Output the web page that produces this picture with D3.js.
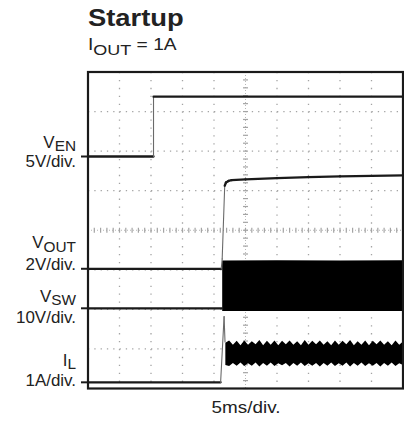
<!DOCTYPE html>
<html>
<head>
<meta charset="utf-8">
<script src="https://cdn.jsdelivr.net/npm/d3@7"></script>
<style>
  body { margin: 0; background: #fff; }
  svg { display: block; font-family: "Liberation Sans", Arial, sans-serif; }
</style>
</head>
<body>
<script>
// scope settings
const timeDomain = [0, 50];          // ms, 10 div x 5ms/div
const divDomain = [-4, 4];           // 8 vertical divisions
const timeLabel = "5ms/div.";
const title = "Startup";
const subtitle = { main: "I", sub: "OUT", rest: " = 1A" };

// channels: label, scale text, units per division, zero reference (div from centre)
const channels = [
    { id: "en",  main: "V", sub: "EN",  scale: "5V/div.",  perDiv: 5,  zero: 1.864 },
    { id: "out", main: "V", sub: "OUT", scale: "2V/div.",  perDiv: 2,  zero: -0.974 },
    { id: "sw",  main: "V", sub: "SW",  scale: "10V/div.", perDiv: 10, zero: -1.973 },
    { id: "il",  main: "I", sub: "L",   scale: "1A/div.",  perDiv: 1,  zero: -3.844 }
];

// traces [t ms, value]
const vEn = [[0, 0], [10.4, 0], [10.4, 7.56], [50, 7.56]];
const vOut = [[0, 0], [21.15, 0], [21.3, 0.5], [21.7, 4.2], [21.9, 4.36], [22.3, 4.44],
    [22.8, 4.48], [25, 4.52], [30, 4.58], [35, 4.63], [40, 4.67], [45, 4.70], [50, 4.72]];
const vSw = [[0, 0], [21.3, 0]];
const iL = [[0, 0], [21.05, 0], [21.6, 1.66], [21.75, 1.02]];

// switching envelopes [t ms, high, low]
const vSwBand = [[21.3, 12.1, -0.7], [30, 12.15, -0.65], [40, 12.1, -0.7], [50, 12.15, -0.7]];
const iLBand = [
    [21.8, 1.00, 0.44], [22.4, 1.06, 0.41], [23.0, 0.95, 0.49], [23.6, 1.05, 0.42],
    [24.2, 0.94, 0.50], [24.8, 1.06, 0.41], [25.4, 0.95, 0.48], [26.0, 1.04, 0.42],
    [26.6, 0.96, 0.50], [27.2, 1.07, 0.40], [27.8, 0.94, 0.49], [28.4, 1.05, 0.42],
    [29.0, 0.95, 0.50], [29.6, 1.06, 0.41], [30.2, 0.94, 0.48], [30.8, 1.05, 0.43],
    [31.4, 0.96, 0.49], [32.0, 1.06, 0.40], [32.6, 0.95, 0.49], [33.2, 1.04, 0.42],
    [33.8, 0.94, 0.50], [34.4, 1.07, 0.41], [35.0, 0.95, 0.48], [35.6, 1.05, 0.42],
    [36.2, 0.96, 0.49], [36.8, 1.06, 0.40], [37.4, 0.95, 0.49], [38.0, 1.04, 0.42],
    [38.6, 0.94, 0.50], [39.2, 1.06, 0.41], [39.8, 0.95, 0.48], [40.4, 1.05, 0.42],
    [41.0, 0.96, 0.50], [41.6, 1.07, 0.40], [42.2, 0.94, 0.49], [42.8, 1.04, 0.42],
    [43.4, 0.95, 0.50], [44.0, 1.06, 0.41], [44.6, 0.94, 0.48], [45.2, 1.05, 0.42],
    [45.8, 0.96, 0.49], [46.4, 1.06, 0.40], [47.0, 0.95, 0.49], [47.6, 1.04, 0.42],
    [48.2, 0.94, 0.50], [48.8, 1.06, 0.41], [49.4, 0.95, 0.48], [50.0, 1.03, 0.44]
];

const W = 404, H = 422;
const box = { left: 88, right: 403, top: 72, bottom: 388.5 };
const ink = "#1a1a1a";
const textCol = "#222";
const gridCol = "#a4a4a4";

const svg = d3.select("body")
    .append("svg")
    .attr("width", W)
    .attr("height", H);

const x = d3.scaleLinear().domain(timeDomain).range([box.left, box.right]);
const yDiv = d3.scaleLinear().domain(divDomain).range([box.bottom, box.top]);
const chan = id => channels.find(c => c.id === id);
const yOf = (id, v) => {
    const c = chan(id);
    return yDiv(c.zero + v / c.perDiv);
};

// grid
const grid = svg.append("g").attr("id", "grid");
const stepX = (box.right - box.left) / 10;
const stepY = (box.bottom - box.top) / 8;
const majorT = d3.range(5, 50, 5);
const majorD = d3.range(-3, 4, 1);

grid.selectAll("line.vx")
    .data(majorT.filter(t => t !== 25))
    .join("line")
    .attr("class", "vx")
    .attr("x1", t => x(t)).attr("x2", t => x(t))
    .attr("y1", box.top).attr("y2", box.bottom)
    .attr("stroke", gridCol)
    .attr("stroke-width", 1.3)
    .attr("stroke-dasharray", `1.3,${stepY / 5 - 1.3}`);
grid.selectAll("line.hy")
    .data(majorD.filter(d => d !== 0))
    .join("line")
    .attr("class", "hy")
    .attr("x1", box.left).attr("x2", box.right)
    .attr("y1", d => yDiv(d)).attr("y2", d => yDiv(d))
    .attr("stroke", gridCol)
    .attr("stroke-width", 1.3)
    .attr("stroke-dasharray", `1.3,${stepX / 5 - 1.3}`);

// centre axes with minor ticks
grid.append("line")
    .attr("x1", x(25)).attr("x2", x(25))
    .attr("y1", box.top).attr("y2", box.bottom)
    .attr("stroke", gridCol).attr("stroke-width", 0.8)
    .attr("stroke-dasharray", "1,2");
grid.append("line")
    .attr("x1", box.left).attr("x2", box.right)
    .attr("y1", yDiv(0)).attr("y2", yDiv(0))
    .attr("stroke", gridCol).attr("stroke-width", 0.8)
    .attr("stroke-dasharray", "1,2");
grid.selectAll("line.cy")
    .data(d3.range(-4, 4.01, 0.2))
    .join("line")
    .attr("class", "cy")
    .attr("x1", x(25) - 2.5).attr("x2", x(25) + 2.5)
    .attr("y1", d => yDiv(d)).attr("y2", d => yDiv(d))
    .attr("stroke", gridCol).attr("stroke-width", 1.2);
grid.selectAll("line.cx")
    .data(d3.range(0, 50.01, 1))
    .join("line")
    .attr("class", "cx")
    .attr("x1", t => x(t)).attr("x2", t => x(t))
    .attr("y1", yDiv(0) - 2.5).attr("y2", yDiv(0) + 2.5)
    .attr("stroke", gridCol).attr("stroke-width", 1.2);

// traces
svg.append("clipPath").attr("id", "clip")
    .append("rect")
    .attr("x", box.left).attr("y", box.top)
    .attr("width", box.right - box.left).attr("height", box.bottom - box.top);
const traces = svg.append("g").attr("clip-path", "url(#clip)");

const bands = [["sw", vSwBand], ["il", iLBand]];
bands.forEach(([id, rows]) => {
    traces.append("path")
        .datum(rows)
        .attr("fill", "#000")
        .attr("d", d3.area()
            .x(r => x(r[0]))
            .y0(r => yOf(id, r[2]))
            .y1(r => yOf(id, r[1])));
});

const lines = [["en", vEn], ["out", vOut], ["sw", vSw], ["il", iL]];
lines.forEach(([id, pts]) => {
    // fast edges come out thin and grey on the scope, flat parts dark
    traces.append("g")
        .selectAll("line")
        .data(d3.pairs(pts))
        .join("line")
        .attr("x1", p => x(p[0][0])).attr("y1", p => yOf(id, p[0][1]))
        .attr("x2", p => x(p[1][0])).attr("y2", p => yOf(id, p[1][1]))
        .attr("stroke", p => {
            const dx = Math.abs(x(p[1][0]) - x(p[0][0]));
            const dy = Math.abs(yOf(id, p[1][1]) - yOf(id, p[0][1]));
            return dy > 3 * dx + 4 ? "#6a6a6a" : ink;
        })
        .attr("stroke-width", p => {
            const dx = Math.abs(x(p[1][0]) - x(p[0][0]));
            const dy = Math.abs(yOf(id, p[1][1]) - yOf(id, p[0][1]));
            return dy > 3 * dx + 4 ? 1.1 : 2.3;
        })
        .attr("stroke-linecap", "round");
});

// frame
svg.append("rect")
    .attr("x", box.left).attr("y", box.top)
    .attr("width", box.right - box.left).attr("height", box.bottom - box.top)
    .attr("fill", "none")
    .attr("stroke", ink)
    .attr("stroke-width", 2.2);

// channel markers
svg.append("g")
    .selectAll("line")
    .data(channels)
    .join("line")
    .attr("x1", box.left - 7).attr("x2", box.left)
    .attr("y1", c => yDiv(c.zero)).attr("y2", c => yDiv(c.zero))
    .attr("stroke", ink)
    .attr("stroke-width", 2);

// channel labels
const labelPos = {
    en:  { name: 147.5, scale: 167.3 },
    out: { name: 248.3, scale: 270 },
    sw:  { name: 301.7, scale: 323 },
    il:  { name: 365.7, scale: 385.7 }
};
const labels = svg.append("g").attr("fill", textCol);
channels.forEach(c => {
    const p = labelPos[c.id];
    const g1 = labels.append("g").attr("transform", `translate(76,${p.name}) scale(1.06,1)`);
    const t = g1.append("text").attr("text-anchor", "end").attr("font-size", 16);
    t.append("tspan").text(c.main);
    t.append("tspan").attr("font-size", 14.5).attr("dy", 3.4).text(c.sub);
    labels.append("g").attr("transform", `translate(76,${p.scale}) scale(1.06,1)`)
        .append("text")
        .attr("text-anchor", "end")
        .attr("font-size", 16)
        .text(c.scale);
});

// titles
svg.append("g").attr("transform", "translate(88,26) scale(1.19,1)")
    .append("text")
    .attr("font-size", 23)
    .attr("font-weight", "bold")
    .attr("fill", textCol)
    .text(title);
const st = svg.append("g").attr("transform", "translate(88,50) scale(1.2,1)")
    .append("text")
    .attr("font-size", 16)
    .attr("fill", textCol);
st.append("tspan").text(subtitle.main);
st.append("tspan").attr("font-size", 15).attr("dy", 5).text(subtitle.sub);
st.append("tspan").attr("dy", -5).text(subtitle.rest);

svg.append("g").attr("transform", "translate(246,413) scale(1.18,1)")
    .append("text")
    .attr("text-anchor", "middle")
    .attr("font-size", 16)
    .attr("fill", textCol)
    .text(timeLabel);
</script>
</body>
</html>
